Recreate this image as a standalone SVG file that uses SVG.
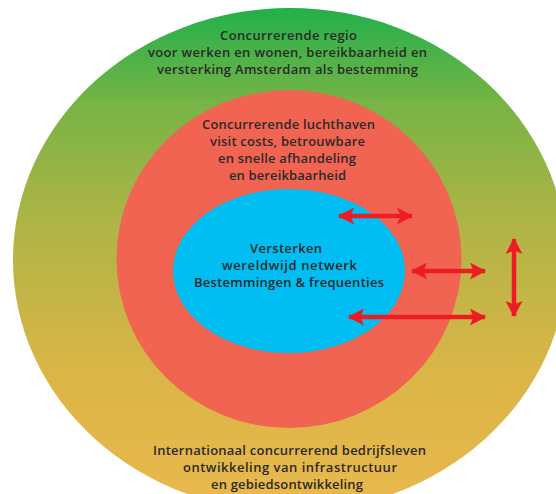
<svg xmlns="http://www.w3.org/2000/svg" width="556" height="494" viewBox="0 0 556 494">
  <defs>
    <linearGradient id="outerGrad" gradientUnits="userSpaceOnUse" x1="0" y1="8" x2="0" y2="494">
      <stop offset="0" stop-color="#22b04b"/>
      <stop offset="0.2" stop-color="#78b445"/>
      <stop offset="0.45" stop-color="#b1b446"/>
      <stop offset="0.75" stop-color="#dbb547"/>
      <stop offset="1" stop-color="#e8b84b"/>
    </linearGradient>
    <marker id="head" viewBox="0 0 17 17" refX="15" refY="8.5" markerWidth="17" markerHeight="17" markerUnits="userSpaceOnUse" orient="auto-start-reverse">
      <path d="M16,8.5 L0,0 L3.5,8.5 L0,17 Z" fill="#ec1c24"/>
    </marker>
    <style>
      .lbl { font-family: "Open Sans", "Liberation Sans", sans-serif; font-size: 13px; font-weight: 600; fill: #2a2a2a; text-anchor: middle; }
      .arrow { stroke: #ec1c24; stroke-width: 4.5; fill: none; marker-start: url(#head); marker-end: url(#head); }
    </style>
  </defs>
  <rect width="556" height="494" fill="#ffffff"/>
  <g id="outer">
    <ellipse cx="290" cy="260" rx="277" ry="252" fill="url(#outerGrad)"/>
    <text class="lbl" x="288.5" y="40" textLength="137" lengthAdjust="spacing">Concurrerende regio</text>
    <text class="lbl" x="287.5" y="57" textLength="279" lengthAdjust="spacing">voor werken en wonen, bereikbaarheid en</text>
    <text class="lbl" x="287.5" y="74" textLength="261" lengthAdjust="spacing">versterking Amsterdam als bestemming</text>
    <text class="lbl" x="289.5" y="455" textLength="273" lengthAdjust="spacing">Internationaal concurrerend bedrijfsleven</text>
    <text class="lbl" x="290" y="472" textLength="214" lengthAdjust="spacing">ontwikkeling van infrastructuur</text>
    <text class="lbl" x="287" y="489" textLength="152" lengthAdjust="spacing">en gebiedsontwikkeling</text>
  </g>
  <g id="middle">
    <ellipse cx="289" cy="259" rx="172.5" ry="169" fill="#f26452"/>
    <text class="lbl" x="288.5" y="129" textLength="173" lengthAdjust="spacing">Concurrerende luchthaven</text>
    <text class="lbl" x="287.5" y="146" textLength="155" lengthAdjust="spacing">visit costs, betrouwbare</text>
    <text class="lbl" x="287" y="163" textLength="138" lengthAdjust="spacing">en snelle afhandeling</text>
    <text class="lbl" x="287.5" y="180" textLength="117" lengthAdjust="spacing">en bereikbaarheid</text>
  </g>
  <g id="inner">
    <ellipse cx="289" cy="271" rx="116" ry="82" fill="#00bdf2"/>
    <text class="lbl" x="286" y="253" textLength="72" lengthAdjust="spacing">Versterken</text>
    <text class="lbl" x="289.5" y="270" textLength="135" lengthAdjust="spacing">wereldwijd netwerk</text>
    <text class="lbl" x="289" y="287" textLength="190" lengthAdjust="spacing">Bestemmingen &amp; frequenties</text>
  </g>
  <g id="connectors">
    <line class="arrow" x1="339" y1="216" x2="412" y2="216"/>
    <line class="arrow" x1="412" y1="271" x2="485" y2="271"/>
    <line class="arrow" x1="349" y1="317" x2="485" y2="317"/>
    <line class="arrow" x1="514" y1="239" x2="514" y2="316"/>
  </g>
</svg>
